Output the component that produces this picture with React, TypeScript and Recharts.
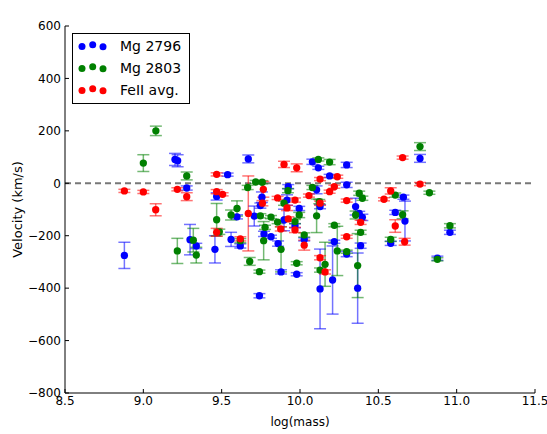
import React from 'react';
import { ScatterChart, Scatter, XAxis, YAxis, ZAxis, ErrorBar, ReferenceLine, Legend } from 'recharts';

// [log(mass), velocity, error]
const mg2796: [number, number, number][] = [
  [8.879, -275, 50], [9.202, 91, 23], [9.219, 86, 23], [9.277, -18, 8], [9.298, -215, 58],
  [9.338, -239, 10], [9.457, -252, 52], [9.468, -50, 14], [9.538, 33, 6], [9.56, -214, 27],
  [9.598, -128, 8], [9.619, -239, 8], [9.67, 93, 15], [9.708, -125, 38], [9.741, -429, 8],
  [9.757, -53, 20], [9.747, -85, 10], [9.77, -193, 10], [9.815, -204, 6], [9.86, -230, 10],
  [9.879, -338, 8], [9.898, -140, 41], [9.917, -64, 20], [9.925, -13, 8], [9.995, -96, 8],
  [9.968, -162, 8], [9.979, -347, 6], [10.027, -214, 6], [10.079, 82, 10], [10.117, 59, 6],
  [10.106, -25, 15], [10.128, -89, 8], [10.128, -403, 152], [10.189, 28, 6], [10.219, -223, 6],
  [10.208, -369, 130], [10.298, 70, 10], [10.298, -6, 10], [10.298, -270, 10], [10.355, -89, 32],
  [10.378, -115, 8], [10.398, -130, 12], [10.387, -238, 10], [10.368, -400, 134], [10.608, -111, 8],
  [10.579, -229, 8], [10.66, -53, 8], [10.67, -144, 76], [10.766, 95, 15], [10.877, -286, 8],
  [10.957, -187, 8],
];

const mg2803: [number, number, number][] = [
  [9.0, 77, 32], [9.08, 200, 18], [9.217, -258, 48], [9.277, 28, 15], [9.319, -217, 45],
  [9.338, -274, 30], [9.468, -139, 62], [9.485, -185, 10], [9.56, -121, 19], [9.598, -96, 29],
  [9.619, -219, 8], [9.666, -16, 8], [9.679, -298, 15], [9.717, 5, 6], [9.741, -337, 6],
  [9.759, 4, 6], [9.747, -124, 8], [9.777, -168, 8], [9.768, -219, 73], [9.815, -129, 6],
  [9.857, -148, 6], [9.879, -252, 86], [9.898, -76, 8], [9.923, -28, 8], [9.995, -121, 10],
  [9.968, -146, 8], [9.979, -305, 6], [10.027, -197, 8], [10.079, -16, 8], [10.117, 91, 6],
  [10.123, -70, 8], [10.106, -124, 64], [10.128, -331, 8], [10.16, -309, 84], [10.189, 81, 10],
  [10.219, -160, 6], [10.238, -258, 94], [10.298, -261, 6], [10.378, -38, 8], [10.398, -57, 8],
  [10.355, -121, 15], [10.387, -187, 8], [10.368, -314, 122], [10.608, -45, 8], [10.579, -214, 8],
  [10.655, -120, 15], [10.766, 140, 15], [10.826, -36, 6], [10.877, -290, 6], [10.957, -162, 8],
];

const feII: [number, number, number][] = [
  [8.879, -29, 6], [9.0, -33, 6], [9.079, -101, 23], [9.217, -23, 6], [9.277, -51, 15],
  [9.468, 34, 6], [9.468, -32, 8], [9.506, -42, 6], [9.468, -187, 15], [9.619, -212, 8],
  [9.67, -115, 143], [9.766, -23, 30], [9.76, -76, 10], [9.857, -56, 6], [9.877, -174, 8],
  [9.898, 72, 12], [9.917, -94, 10], [9.925, -136, 8], [9.979, 59, 15], [9.968, -64, 8],
  [9.968, -178, 10], [10.027, -236, 19], [10.057, -47, 6], [10.128, 16, 6], [10.128, -76, 8],
  [10.128, -284, 8], [10.16, -338, 8], [10.189, -32, 6], [10.219, -13, 6], [10.238, 25, 6],
  [10.298, -66, 6], [10.298, -204, 6], [10.387, -149, 8], [10.536, -61, 6], [10.579, -29, 12],
  [10.608, -163, 24], [10.655, 98, 6], [10.668, -223, 13], [10.766, -3, 6],
];

const xTicks = [8.5, 9.0, 9.5, 10.0, 10.5, 11.0, 11.5];
const yTicks = [-800, -600, -400, -200, 0, 200, 400, 600];

const seriesNames = ['Mg 2796', 'Mg 2803', 'FeII avg.'];
const seriesColors = ['#0000ff', '#008000', '#ff0000'];
const errColors = ['rgba(0,0,255,0.55)', 'rgba(0,128,0,0.55)', 'rgba(255,0,0,0.55)'];

const toPoints = (arr: [number, number, number][]) => arr.map(([x, y, err]) => ({ x, y, err }));

const FONT = 'DejaVu Sans';
const fmtX = (v: number) => v.toFixed(1);
const fmtY = (v: number) => String(v).replace('-', '\u2212');

const LegendBox = () => (
  <svg width={118} height={71} style={{ display: 'block' }}>
    <rect x={0.5} y={0.5} width={117} height={70} fill="#fff" stroke="#000" strokeWidth={1} />
    {seriesNames.map((name, i) => {
      const cy = 13 + i * 22;
      return (
        <g key={name}>
          <circle cx={10} cy={cy + 0.5} r={3.5} fill={seriesColors[i]} />
          <circle cx={20.7} cy={cy - 1.2} r={3.5} fill={seriesColors[i]} />
          <circle cx={31} cy={cy + 0.8} r={3.5} fill={seriesColors[i]} />
          <text x={48} y={cy + 5} fontSize={14} fontFamily={FONT} fill="#000">{name}</text>
        </g>
      );
    })}
  </svg>
);

export default function App() {
  const data = [mg2796, mg2803, feII].map(toPoints);
  return (
    <div style={{ position: 'absolute', left: 0, top: 0 }}>
      <ScatterChart width={547} height={434} margin={{ top: 26, right: 12, bottom: 11, left: 20 }}>
        <XAxis
          dataKey="x" type="number" domain={[8.5, 11.5]} ticks={xTicks} tickFormatter={fmtX}
          height={30} allowDataOverflow axisLine={{ stroke: '#000' }} tickLine={{ stroke: '#000' }}
          tickSize={-4} tickMargin={7} interval={0}
          tick={{ fill: '#000', fontSize: 12, fontFamily: FONT }}
          label={{
            content: (p: any) => {
              const vb = p.viewBox;
              return (
                <text x={vb.x + vb.width / 2} y={426} textAnchor="middle" fontSize={12} fontFamily={FONT} fill="#000">log(mass)</text>
              );
            },
          }}
        />
        <XAxis
          xAxisId="top" orientation="top" type="number" domain={[8.5, 11.5]} ticks={xTicks}
          height={0} allowDataOverflow axisLine={{ stroke: '#000' }} tickLine={{ stroke: '#000' }}
          tickSize={-4} tick={false}
          label={{
            content: (p: any) => {
              const vb = p.viewBox;
              return (
                <text x={vb.x + vb.width / 2} y={20} textAnchor="middle" fontSize={16} fontFamily={FONT} fill="#000">Velocity vs. log(mass)</text>
              );
            },
          }}
        />
        <YAxis
          dataKey="y" type="number" domain={[-800, 600]} ticks={yTicks} tickFormatter={fmtY}
          width={45} allowDataOverflow axisLine={{ stroke: '#000' }} tickLine={{ stroke: '#000' }}
          tickSize={-4} tickMargin={8} interval={0}
          tick={{ fill: '#000', fontSize: 12, fontFamily: FONT }}
          label={{
            content: (p: any) => {
              const vb = p.viewBox;
              const cy = vb.y + vb.height / 2;
              return (
                <text x={22} y={cy} transform={`rotate(-90, 22, ${cy})`} textAnchor="middle" fontSize={13} fontFamily={FONT} fill="#000">Velocity (km/s)</text>
              );
            },
          }}
        />
        <YAxis
          yAxisId="right" orientation="right" type="number" domain={[-800, 600]} ticks={yTicks}
          width={0} allowDataOverflow axisLine={{ stroke: '#000' }} tickLine={{ stroke: '#000' }}
          tickSize={-4} tick={false}
        />
        <ZAxis range={[42, 42]} />
        <ReferenceLine y={0} stroke="#777" strokeWidth={2} strokeDasharray="6 4" ifOverflow="extendDomain" />
        {data.map((pts, i) => (
          <Scatter key={seriesNames[i]} name={seriesNames[i]} data={pts} fill={seriesColors[i]} isAnimationActive={false}>
            <ErrorBar dataKey="err" direction="y" width={6} stroke={errColors[i]} strokeWidth={1.5} />
          </Scatter>
        ))}
        <Legend
          layout="vertical" verticalAlign="middle" align="center"
          wrapperStyle={{ left: 72, top: 33, width: 118, height: 71 }}
          content={() => <LegendBox />}
        />
      </ScatterChart>
    </div>
  );
}
